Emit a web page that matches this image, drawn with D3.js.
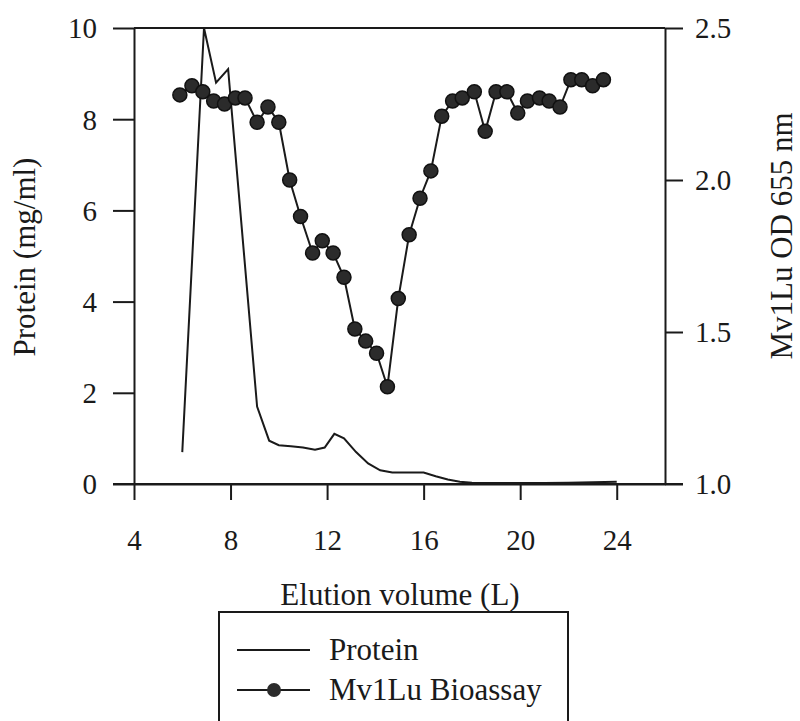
<!DOCTYPE html>
<html>
<head>
<meta charset="utf-8">
<script src="https://cdn.jsdelivr.net/npm/d3@7"></script>
<style>
  body { margin: 0; background: #fff; }
  text { font-family: "Liberation Serif", "Times New Roman", serif; fill: #1a1a1a; }
</style>
</head>
<body>
<div class="chart"></div>
<script>
// protein elution profile (L, mg/ml)
const proteinVolume = [6.0, 6.9, 7.4, 7.9, 9.1, 9.6, 10.0, 10.5, 11.0, 11.5, 11.9, 12.3, 12.7, 13.2, 13.7, 14.2, 14.7, 15.5, 16.0, 16.5, 17.0, 17.5, 18.0, 19.0, 20.0, 21.0, 22.0, 23.0, 24.0]
const proteinValue  = [0.7, 10.0, 8.8, 9.1, 1.7, 0.95, 0.85, 0.83, 0.8, 0.75, 0.8, 1.1, 1.0, 0.7, 0.45, 0.3, 0.25, 0.25, 0.25, 0.17, 0.1, 0.05, 0.03, 0.02, 0.02, 0.02, 0.03, 0.04, 0.05]

// Mv1Lu bioassay (L, OD 655 nm)
const assayVolume = [5.9, 6.4, 6.85, 7.3, 7.75, 8.2, 8.6, 9.1, 9.55, 10.0, 10.45, 10.9, 11.4, 11.8, 12.25, 12.7, 13.15, 13.6, 14.05, 14.5, 14.95, 15.4, 15.85, 16.3, 16.75, 17.2, 17.6, 18.1, 18.55, 19.0, 19.45, 19.9, 20.3, 20.8, 21.2, 21.65, 22.1, 22.55, 23.0, 23.45]
const assayValue  = [2.28, 2.31, 2.29, 2.26, 2.25, 2.27, 2.27, 2.19, 2.24, 2.19, 2.0, 1.88, 1.76, 1.80, 1.76, 1.68, 1.51, 1.47, 1.43, 1.32, 1.61, 1.82, 1.94, 2.03, 2.21, 2.26, 2.27, 2.29, 2.16, 2.29, 2.29, 2.22, 2.26, 2.27, 2.26, 2.24, 2.33, 2.33, 2.31, 2.33]

const xTicks = [4, 8, 12, 16, 20, 24]
const leftTicks = [0, 2, 4, 6, 8, 10]
const rightTicks = [1.0, 1.5, 2.0, 2.5]

const seriesNames = ["Protein", "Mv1Lu Bioassay"]

const ink = "#1a1a1a"

let dimensions = {
    width: 800,
    height: 721,
    margin: { top: 28, right: 135, bottom: 237, left: 134 }
}
dimensions.boundedWidth = dimensions.width - dimensions.margin.left - dimensions.margin.right
dimensions.boundedHeight = dimensions.height - dimensions.margin.top - dimensions.margin.bottom

const wrapper = d3.select(".chart")
    .append("svg")
    .attr("width", dimensions.width)
    .attr("height", dimensions.height)

const bounds = wrapper.append("g")
    .attr("transform", `translate(${dimensions.margin.left},${dimensions.margin.top})`)

// scales
const xScale = d3.scaleLinear().domain([4, 26]).range([0, dimensions.boundedWidth])
const yLeft = d3.scaleLinear().domain([0, 10]).range([dimensions.boundedHeight, 0])
const yRight = d3.scaleLinear().domain([1.0, 2.5]).range([dimensions.boundedHeight, 0])

// axes
const xAxis = bounds.append("g")
    .attr("transform", `translate(0,${dimensions.boundedHeight})`)
    .call(d3.axisBottom(xScale).tickValues(xTicks).tickSize(16).tickSizeOuter(0).tickPadding(29))

const leftAxis = bounds.append("g")
    .call(d3.axisLeft(yLeft).tickValues(leftTicks).tickSize(21).tickSizeOuter(0).tickPadding(16))

const rightAxis = bounds.append("g")
    .attr("transform", `translate(${dimensions.boundedWidth},0)`)
    .call(d3.axisRight(yRight).tickValues(rightTicks).tickFormat(d3.format(".1f")).tickSize(18).tickSizeOuter(0).tickPadding(12))

// top frame line
bounds.append("line")
    .attr("x1", 0).attr("x2", dimensions.boundedWidth)
    .attr("y1", 0).attr("y2", 0)
    .attr("stroke", ink).attr("stroke-width", 2)

// bottom line continues out past both axes
bounds.append("line")
    .attr("x1", -21).attr("x2", dimensions.boundedWidth + 18)
    .attr("y1", dimensions.boundedHeight).attr("y2", dimensions.boundedHeight)
    .attr("stroke", ink).attr("stroke-width", 2)

for (const ax of [xAxis, leftAxis, rightAxis]) {
    ax.selectAll("path, line").attr("stroke", ink).attr("stroke-width", 2)
    ax.selectAll("text").attr("font-size", 29).attr("fill", ink)
        .style("font-family", "'Liberation Serif', serif")
}
leftAxis.selectAll("text").attr("dy", "0.34em")
rightAxis.selectAll("text").attr("dy", "0.34em")

// protein line
const proteinData = proteinVolume.map((v, i) => ({ x: v, y: proteinValue[i] }))
bounds.append("path")
    .datum(proteinData)
    .attr("fill", "none")
    .attr("stroke", ink)
    .attr("stroke-width", 2)
    .attr("stroke-linejoin", "miter")
    .attr("d", d3.line().x(d => xScale(d.x)).y(d => yLeft(d.y)))

// bioassay line + markers
const assayData = assayVolume.map((v, i) => ({ x: v, y: assayValue[i] }))
bounds.append("path")
    .datum(assayData)
    .attr("fill", "none")
    .attr("stroke", ink)
    .attr("stroke-width", 2)
    .attr("d", d3.line().x(d => xScale(d.x)).y(d => yRight(d.y)))

bounds.selectAll("circle.assay")
    .data(assayData)
    .join("circle")
    .attr("class", "assay")
    .attr("cx", d => xScale(d.x))
    .attr("cy", d => yRight(d.y))
    .attr("r", 7)
    .attr("fill", "#2b2b2b")
    .attr("stroke", "#111")
    .attr("stroke-width", 1.5)

// axis titles
wrapper.append("text")
    .attr("transform", "translate(35,257) rotate(-90)")
    .attr("text-anchor", "middle")
    .attr("font-size", 31)
    .text("Protein (mg/ml)")

wrapper.append("text")
    .attr("transform", "translate(792,236) rotate(-90)")
    .attr("text-anchor", "middle")
    .attr("font-size", 31)
    .text("Mv1Lu OD 655 nm")

wrapper.append("text")
    .attr("x", 400)
    .attr("y", 605)
    .attr("text-anchor", "middle")
    .attr("font-size", 31)
    .text("Elution volume (L)")

// legend
const legend = wrapper.append("g")
legend.append("rect")
    .attr("x", 219).attr("y", 612)
    .attr("width", 349).attr("height", 130)
    .attr("fill", "none")
    .attr("stroke", ink)
    .attr("stroke-width", 2)

const legendRows = legend.selectAll("g.row")
    .data(seriesNames)
    .join("g")
    .attr("class", "row")
    .attr("transform", (d, i) => `translate(237,${650 + i * 40})`)

legendRows.append("line")
    .attr("x1", 0).attr("x2", 73)
    .attr("stroke", ink).attr("stroke-width", 2)

legendRows.filter((d, i) => i === 1)
    .append("circle")
    .attr("cx", 37).attr("r", 7)
    .attr("fill", "#2b2b2b")

legendRows.append("text")
    .attr("x", 92)
    .attr("dy", "0.33em")
    .attr("font-size", 31)
    .text(d => d)
</script>
</body>
</html>
